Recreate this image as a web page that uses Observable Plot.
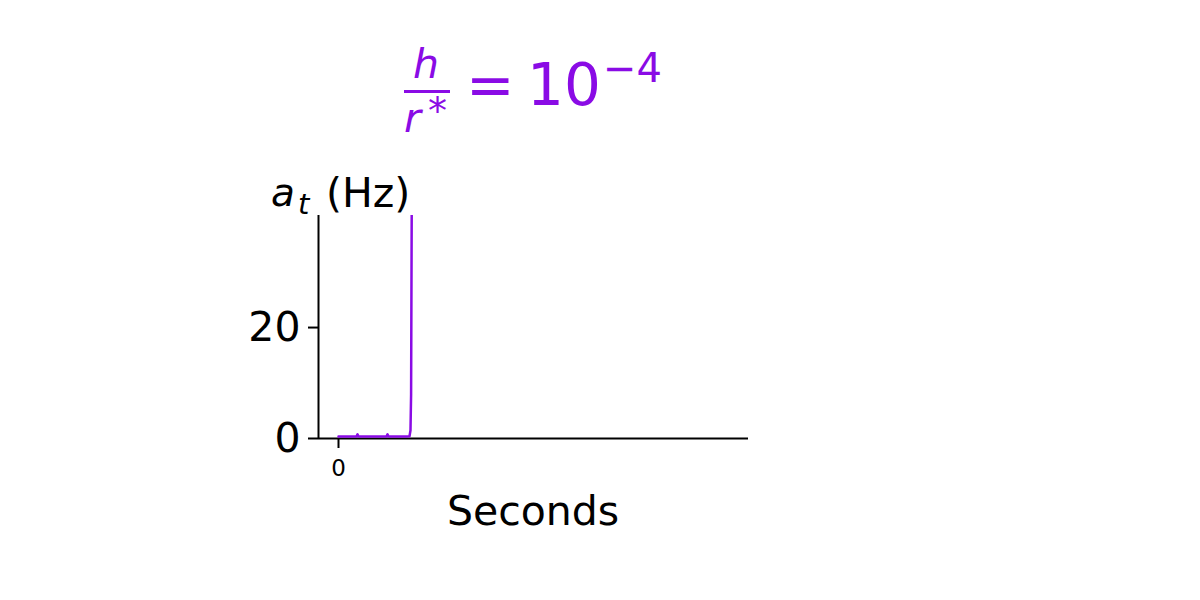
<!DOCTYPE html>
<html>
<head>
<meta charset="utf-8">
<script src="https://cdn.jsdelivr.net/npm/d3@7"></script>
<script src="https://cdn.jsdelivr.net/npm/@observablehq/plot@0.6"></script>
<style>
  html, body { margin: 0; padding: 0; background: white; }
  #wrap { position: relative; width: 1200px; height: 600px; overflow: hidden; font-family: "DejaVu Sans", sans-serif; }
  #title { position: relative; width: 1200px; height: 150px; color: #8a0be5; }
  #title span, #title div { position: absolute; line-height: 1; white-space: nowrap; }
  .it { font-style: italic; }
</style>
</head>
<body>
<div id="wrap">
  <div id="title">
    <span class="it" style="font-size:41px; left:413px; top:44px;">h</span>
    <div style="left:404px; top:90px; width:46px; height:3px; background:#8a0be5;"></div>
    <span class="it" style="font-size:41px; left:404px; top:98px;">r</span>
    <span style="font-size:38px; left:428px; top:92px;">*</span>
    <span style="font-size:58px; left:466px; top:56px;">=</span>
    <span style="font-size:58px; left:527px; top:56px;">10</span>
    <span style="font-size:40px; left:603px; top:48px;">−4</span>
  </div>
  <div id="chart"></div>
</div>
<script>
// Data
const times = [0, 0.5, 0.9, 0.95, 1.0, 1.5, 2.0, 2.4, 2.45, 2.5, 3.0, 3.4, 3.55, 3.6, 3.63, 3.66, 3.7];
const rates = [0.35, 0.35, 0.35, 0.75, 0.35, 0.35, 0.35, 0.35, 0.75, 0.35, 0.35, 0.35, 0.4, 1.5, 8, 40, 120];
const xTicks = [0];
const yTicks = [0, 20];
const xDomain = [-1, 20.5];
const yDomain = [0, 40.2];
const purple = "#8a0be5";

const data = times.map((t, i) => ({t, a: rates[i]}));

const svg = Plot.plot({
  width: 1200,
  height: 450,
  marginTop: 65,
  marginBottom: 162,
  marginLeft: 318,
  marginRight: 452,
  style: {fontFamily: "DejaVu Sans", color: "black", background: "white", overflow: "visible"},
  x: {domain: xDomain},
  y: {domain: yDomain},
  marks: [
    Plot.axisY({ticks: yTicks, tickSize: 10, tickPadding: 8, fontSize: 41, label: null, strokeWidth: 2}),
    Plot.axisX({ticks: xTicks, tickSize: 10, tickPadding: 11, fontSize: 23, label: null, strokeWidth: 2}),
    Plot.ruleX([xDomain[0]], {strokeWidth: 2}),
    Plot.ruleY([0], {strokeWidth: 2}),
    Plot.line(data, {x: "t", y: "a", stroke: purple, strokeWidth: 2.5, clip: true})
  ]
});

const s = d3.select(svg);
const yl = s.append("g").attr("font-family", "DejaVu Sans").attr("fill", "black").attr("text-anchor", "start");
yl.append("text").attr("x", 271).attr("y", 56).attr("font-size", 39).attr("font-style", "italic").text("a");
yl.append("text").attr("x", 298).attr("y", 64).attr("font-size", 29).attr("font-style", "italic").text("t");
yl.append("text").attr("x", 326).attr("y", 57).attr("font-size", 41).text("(Hz)");
s.append("text").attr("x", 533).attr("y", 375).attr("font-size", 41).attr("text-anchor", "middle")
  .attr("font-family", "DejaVu Sans").attr("fill", "black").text("Seconds");

document.getElementById("chart").appendChild(svg);
</script>
</body>
</html>
